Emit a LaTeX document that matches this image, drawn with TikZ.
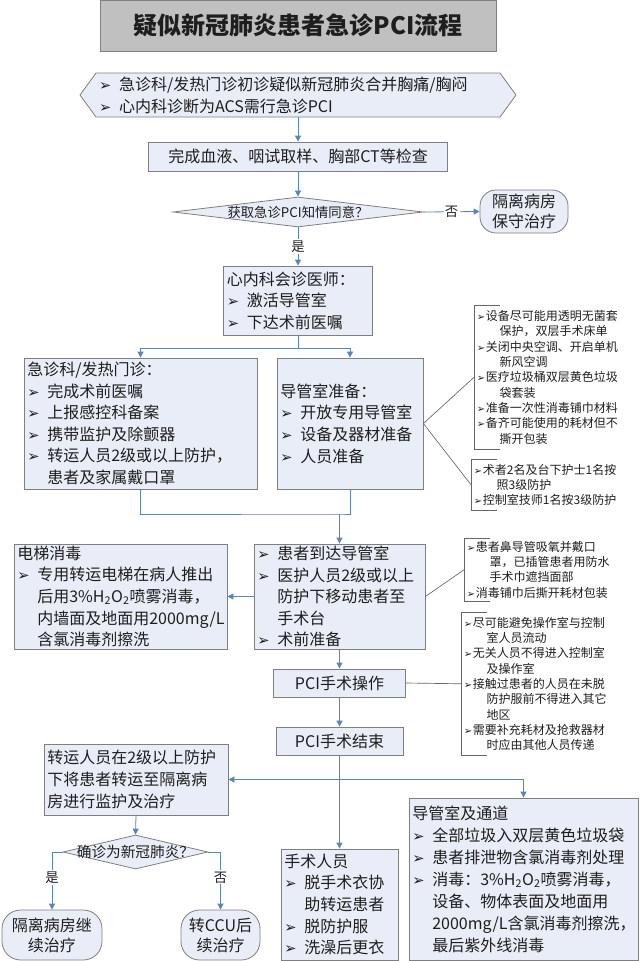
\documentclass[tikz,border=0pt]{standalone}
\usepackage{fontspec}
\setmainfont{Noto Sans CJK SC}
\newfontfamily\dv{DejaVu Sans}
\usetikzlibrary{shapes.geometric,arrows.meta}
\definecolor{boxfill}{HTML}{E9EDF7}
\definecolor{boxline}{HTML}{7F7F7F}
\definecolor{conncol}{HTML}{5A84BC}
\definecolor{titlefill}{HTML}{C0C0C0}
\definecolor{txt}{HTML}{1E1E1E}
\newcommand\bl{\makebox[1.25em][l]{\fontsize{11}{12}\dv ➢}}
\newcommand\ind{\hspace*{1.25em}}
\newcommand\nbl{\makebox[0.75em][l]{\fontsize{7.5}{8}\dv ➢}}
\newcommand\nind{\hspace*{1.9em}}
\begin{document}
\begin{tikzpicture}[x=0.75pt,y=-0.75pt,text=txt,
  box/.style={draw=boxline, fill=boxfill, line width=0.6pt, inner xsep=2.5pt, inner ysep=0pt, align=left, font=\fontsize{12}{16.2}\selectfont},
  cbox/.style={box, align=center},
  rbox/.style={rectangle, rounded corners=12pt, draw=boxline, fill=boxfill, line width=0.6pt, inner sep=0pt, align=center, font=\fontsize{12}{15}\selectfont},
  dia/.style={diamond, draw=boxline, fill=boxfill, line width=0.6pt, inner sep=0pt},
  conn/.style={draw=conncol, line width=0.6pt, -{Triangle[width=4.5pt,length=4.5pt]}},
  cline/.style={draw=conncol, line width=0.6pt},
  lbl/.style={fill=white, inner sep=1pt, font=\fontsize{10}{10}\selectfont},
  note/.style={anchor=north west, inner xsep=2pt, inner ysep=0pt, align=left, font=\fontsize{9}{11.5}\selectfont},
  nline/.style={draw=boxline!80!black, line width=0.5pt}]
\useasboundingbox (0,0) rectangle (640,961);

% title
\node[box, fill=titlefill, minimum width=297pt, minimum height=38.25pt, align=center, font=\fontsize{18}{20}\selectfont\bfseries] (title) at (298,25.5) {疑似新冠肺炎患者急诊PCI流程};

% start hexagon
\draw[draw=boxline, fill=boxfill, line width=0.6pt] (96,73) -- (80,95) -- (96,117) -- (500,117) -- (516,95) -- (500,73) -- cycle;
\node[text width=298.5pt, minimum height=33pt, inner sep=0pt, align=left, font=\fontsize{12}{16.5}\selectfont] (start) at (298,95) {\bl 急诊科/发热门诊初诊疑似新冠肺炎合并胸痛/胸闷\\\bl 心内科诊断为ACS需行急诊PCI};

\node[cbox, minimum width=224.25pt, minimum height=21.75pt] (check) at (298,156.5) {完成血液、咽试取样、胸部CT等检查};

\node[dia, minimum width=187.5pt, minimum height=22.5pt] (consent) at (298,212) {};
\node[inner sep=0pt, font=\fontsize{10}{12}\selectfont] (consentT) at (consent) {获取急诊PCI知情同意？};

\node[rbox, minimum width=66pt, minimum height=32.25pt] (iso) at (524,211.5) {隔离病房\\保守治疗};

\node[box, text width=106.75pt, minimum height=51.75pt] (cardio) at (298,300.5) {心内科会诊医师：\\\bl 激活导管室\\\bl 下达术前医嘱};

\node[box, text width=169.75pt, minimum height=98.25pt] (er) at (140.5,423.5) {急诊科/发热门诊：\\\bl 完成术前医嘱\\\bl 上报感控科备案\\\bl 携带监护及除颤器\\\bl 转运人员2级或以上防护，\\\ind 患者及家属戴口罩};

\node[box, text width=104.5pt, minimum height=98.25pt] (prep) at (350,423.5) {导管室准备：\\\bl 开放专用导管室\\\bl 设备及器材准备\\\bl 人员准备};

% notes
\node[note, minimum height=108pt] (n1) at (474,305) {\nbl 设备尽可能用透明无菌套\\\nind 保护，双层手术床单\\\nbl 关闭中央空调、开启单机\\\nind 新风空调\\\nbl 医疗垃圾桶双层黄色垃圾\\\nind 袋套装\\\nbl 准备一次性消毒铺巾材料\\\nbl 备齐可能使用的耗材但不\\\nind 撕开包装};
\draw[nline] ([xshift=19.5pt]n1.north west) -- (n1.north west) -- (n1.south west) -- ++(26,0);

\node[note, minimum height=38.25pt] (n2) at (471,459) {\nbl 术者2名及台下护士1名按\\\nind 照3级防护\\\nbl 控制室技师1名按3级防护};
\draw[nline] ([xshift=19.5pt]n2.north west) -- (n2.north west) -- (n2.south west) -- ++(26,0);

\node[box, text width=154.75pt, minimum height=78.75pt] (elev) at (120.5,596.5) {电梯消毒\\\bl 专用转运电梯在病人推出\\\ind 后用3\%H\textsubscript{2}O\textsubscript{2}喷雾消毒，\\\ind 内墙面及地面用2000mg/L\\\ind 含氯消毒剂擦洗};

\node[box, text width=123.25pt, minimum height=78.75pt] (arrival) at (339.5,596.5) {\bl 患者到达导管室\\\bl 医护人员2级或以上\\\ind 防护下移动患者至\\\ind 手术台\\\bl 术前准备};

\node[note, minimum height=47.25pt] (n3) at (464,538) {\nbl 患者鼻导管吸氧并戴口\\\nind 罩，已插管患者用防水\\\nind 手术巾遮挡面部\\\nbl 消毒铺巾后撕开耗材包装};
\draw[nline] ([xshift=19.5pt]n3.north west) -- (n3.north west) -- (n3.south west) -- ++(26,0);

\node[cbox, minimum width=99pt, minimum height=21pt] (pciop) at (339.5,683) {PCI手术操作};

\node[note, minimum height=107.25pt] (n4) at (461,612) {\nbl 尽可能避免操作室与控制\\\nind 室人员流动\\\nbl 无关人员不得进入控制室\\\nind 及操作室\\\nbl 接触过患者的人员在未脱\\\nind 防护服前不得进入其它\\\nind 地区\\\nbl 需要补充耗材及抢救器材\\\nind 时应由其他人员传递};
\draw[nline] ([xshift=19.5pt]n4.north west) -- (n4.north west) -- (n4.south west) -- ++(26,0);

\node[cbox, minimum width=95.25pt, minimum height=21pt] (pciend) at (339.5,741) {PCI手术结束};

\node[box, text width=133pt, minimum height=53.25pt] (transfer) at (136,779.5) {转运人员在2级以上防护\\下将患者转运至隔离病\\房进行监护及治疗};

\node[dia, minimum width=108.75pt, minimum height=25.5pt] (dx) at (135.5,852) {};
\node[inner sep=0pt, font=\fontsize{11}{12}\selectfont] (dxT) at (dx) {确诊为新冠肺炎？};

\node[rbox, rounded corners=14pt, minimum width=75pt, minimum height=37.5pt] (lr) at (52,935) {隔离病房继\\续治疗};
\node[rbox, rounded corners=14pt, minimum width=59.25pt, minimum height=37.5pt] (rr) at (220.5,935) {转CCU后\\续治疗};

\node[box, text width=82.75pt, minimum height=83.25pt] (staff) at (339.5,904.5) {手术人员\\\bl 脱手术衣协\\\ind 助转运患者\\\bl 脱防护服\\\bl 洗澡后更衣};

\node[box, text width=166.75pt, minimum height=121.5pt, font=\fontsize{12}{16.5}\selectfont] (clean) at (523.5,879) {导管室及通道\\\bl 全部垃圾入双层黄色垃圾袋\\\bl 患者排泄物含氯消毒剂处理\\\bl 消毒：3\%H\textsubscript{2}O\textsubscript{2}喷雾消毒，\\\ind 设备、物体表面及地面用\\\ind 2000mg/L含氯消毒剂擦洗，\\\ind 最后紫外线消毒};

% connectors
\draw[conn] (start.south) -- (check.north);
\draw[conn] (check.south) -- (consent.north);
\draw[conn] (consent.east) -- node[lbl]{否} (iso.west);
\draw[conn] (consent.south) -- node[lbl]{是} (cardio.north);
\coordinate (split) at (298,348);
\draw[cline] (cardio.south) -- (split);
\draw[conn] (split) -| (er.north);
\draw[conn] (split) -| (prep.north);
\coordinate (merge) at (339.5,514);
\draw[cline] (er.south) |- (merge) -| (prep.south);
\draw[conn] (merge) -- (arrival.north);
\draw[conn] (arrival.west) -- (elev.east);
\draw[conn] (arrival.south) -- (pciop.north);
\draw[conn] (pciop.south) -- (pciend.north);
\coordinate (br) at (339.5,779.5);
\draw[conn] (pciend.south) -- (staff.north);
\draw[conn] (br) -- (transfer.east);
\draw[conn] (br) -| (clean.north);
\draw[conn] (transfer.south) -- (dx.north);
\draw[conn] (dx.west) -| node[lbl,pos=0.72]{是} (lr.north);
\draw[conn] (dx.east) -| node[lbl,pos=0.72]{否} (rr.north);

% note connectors
\draw[nline] (prep.east) -- (n1.west);
\draw[nline] (prep.east) -- (n2.west);
\draw[nline] (arrival.east) -- (n3.west);
\draw[nline] (pciop.east) -- (n4.west);
\end{tikzpicture}
\end{document}
